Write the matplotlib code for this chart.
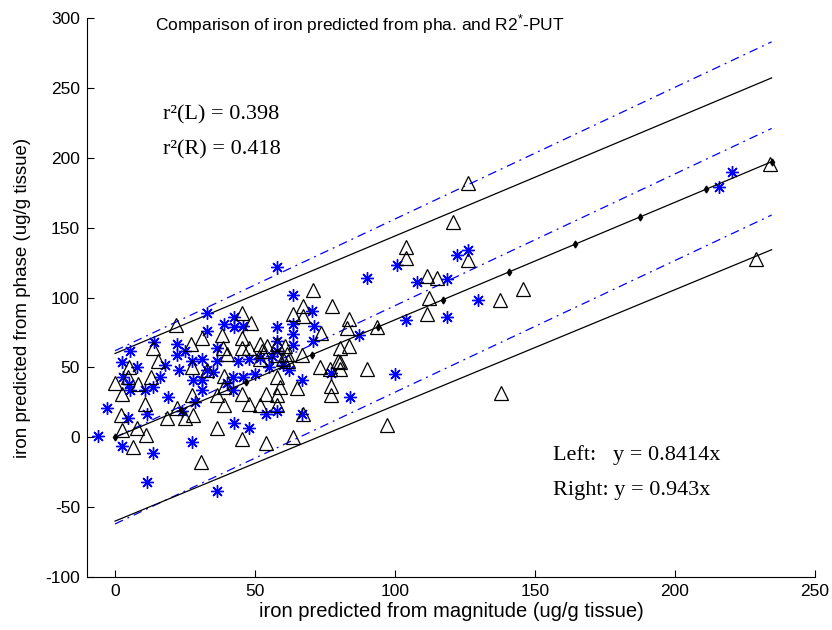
import matplotlib
matplotlib.use("Agg")
import matplotlib.pyplot as plt
import numpy as np

# left putamen: magnitude vs phase estimates (open triangles)
left_x = [70.7, 67, 77.5, 63.6, 67, 45.4, 48.6, 21.8, 83.6, 83, 73.6, 38.2, 31, 45.4, 27, 13.6,
          15.4, 38.6, 40, 45.4, 48, 51.8, 54.3, 57.9, 60.7, 52.5, 57.9, 60, 61.8, 66.8, 80.4, 79.6,
          73.2, 76.8, 80.4, 5, 4.6, 0, 2.5, 8.2, 13, 10.7, 2, 2.5, 7.9, 11, 6.4, 27.5, 33, 39, 39,
          27.5, 18.6, 22, 25, 28, 36.4, 39, 36.4, 45.4, 48, 51.8, 54, 58, 58, 59, 58, 65, 67, 77,
          77, 45.4, 54, 63.6, 30.7, 51.8, 61.4, 126, 120.7, 104, 104, 126, 111.4, 115, 112, 111.4,
          137.5, 145.7, 93.6, 83.6, 80.4, 90, 138, 97, 234, 229]
left_y = [105.7, 94, 94, 88.6, 87, 89, 82, 80.7, 85, 78.6, 75, 73.6, 71.4, 71.4, 67, 63.6,
          55, 63.6, 60, 63.6, 63.6, 67, 65.7, 67, 65.7, 62, 58.6, 56.4, 55, 58.6, 63.6, 55,
          50, 49, 49, 50, 43, 38.6, 31, 38, 43, 24, 16, 5, 7, 1.4, -7, 50, 48, 44, 36,
          30, 14, 21, 14, 16, 30, 23, 7, 31, 24, 23, 31, 30, 23, 36, 43, 35, 17, 37,
          30, -1.4, -4, 0, -18, 56, 60, 182, 154, 136, 128.6, 127, 115.7, 114, 100, 88.6,
          98.6, 106, 79, 65.7, 53.6, 49, 32, 8.6, 196, 128]

# right putamen (blue asterisks)
right_x = [63.6, 70.4, 33, 39, 42.5, 42.5, 45.7, 63.6, 63.6, 33, 22, 22, 14, 5.4, 2.5, 3, 5.4,
           10.7, 13.6, 16, 19, 23, 27.5, 31, 32.8, 28, 31, 31, 36.4, 36.4, 42, 45.7, 42, 48,
           51.8, 58, 58, 63.6, 66.8, 66.8, 58, 54, 28.6, 24, 11.4, 4.6, -3, -6, 2.5, 13.6, 11.4,
           36.4, 27.5, 42.5, 48, 70.7, 84, 87, 100.7, 90, 108, 118.6, 122, 126, 129.6, 118.6,
           104, 100, 77, 220.4, 215.7, 57.9, 8, 5, 18, 25, 35, 40, 44, 50, 55, 60, 62, 56, 71, 58]
right_y = [102, 90.7, 89, 81, 86, 79, 80, 81, 74, 76, 67, 59, 68, 62, 54, 43, 33.6,
           33.6, 36, 43, 28.6, 48, 55, 56, 48, 40.7, 40.7, 33.6, 63.6, 55, 43, 43, 33.6, 56,
           57, 69, 62, 66, 41, 17, 19, 17, 25, 19, 17, 13.6, 20.7, 0.7, -6.4, -11.4, -32,
           -38.6, -3.6, 10, 7, 69, 28.6, 73, 123.6, 114, 111, 113.6, 130.7, 134, 98.6, 86.4,
           84, 45, 46, 190, 179, 122, 50, 38, 52, 62, 47, 39, 55, 45, 50, 52, 48, 58, 80, 79]

# fitted lines and bands (endpoints at x = 0 and x = 234.5)
fit_x = [0, 234.5]
left_slope = 0.8414
right_slope = 0.943
left_band = 60
right_band = 62

plt.rcParams['axes.unicode_minus'] = False
plt.rcParams['mathtext.fontset'] = 'custom'
plt.rcParams['mathtext.rm'] = 'Liberation Sans'

fig = plt.figure(figsize=(8.32, 6.3), dpi=100)
ax = fig.add_axes([0.1046, 0.0841, 0.875, 0.8869])

fx = np.array(fit_x)
lx = np.linspace(fit_x[0], fit_x[1], 11)
dashdot = (0, (7, 4, 1.5, 4))

ax.plot(fx, right_slope * fx + right_band, color='blue', lw=0.9, ls=dashdot)
ax.plot(fx, right_slope * fx, color='blue', lw=0.9, ls=dashdot)
ax.plot(fx, right_slope * fx - right_band, color='blue', lw=0.9, ls=dashdot)
ax.plot(fx, left_slope * fx + left_band, color='black', lw=0.9)
ax.plot(fx, left_slope * fx - left_band - 3 * fx / fit_x[1], color='black', lw=0.9)

ax.plot(right_x, right_y, ls='none', marker=(8, 2, 0), ms=9, mew=1.0, color='blue')
ax.plot(left_x, left_y, ls='none', marker='^', ms=10, mfc='none', mec='black', mew=0.9)
ax.plot(lx, left_slope * lx, color='black', lw=0.9, marker='d', ms=3.5)

ax.set_xlim(-10, 250)
ax.set_ylim(-100, 300)
ax.set_xticks([0, 50, 100, 150, 200, 250])
ax.set_yticks(np.arange(-100, 301, 50))
ax.spines['top'].set_visible(False)
ax.spines['right'].set_visible(False)
ax.tick_params(direction='in', length=5, labelsize=12.5, pad=5)
for lab in ax.get_xticklabels() + ax.get_yticklabels():
    lab.set_family('Liberation Sans')

ax.set_xlabel('iron predicted from magnitude (ug/g tissue)', fontsize=14.5,
              family='Liberation Sans', labelpad=2)
ax.set_ylabel('iron predicted from phase (ug/g tissue)', fontsize=13.5,
              family='Liberation Sans', labelpad=10)

ax.text(87.5, 296, 'Comparison of iron predicted from pha. and R2$^{*}$-PUT', ha='center', va='center',
        fontsize=12.5, family='Liberation Sans')

ax.text(17, 231, 'r²(L) = 0.398', ha='left', va='center', fontsize=16, family='Liberation Serif')
ax.text(17, 206, 'r²(R) = 0.418', ha='left', va='center', fontsize=16, family='Liberation Serif')
ax.text(156.5, -13, 'Left:   y = 0.8414x', ha='left', va='center', fontsize=16, family='Liberation Serif')
ax.text(156.5, -38, 'Right: y = 0.943x', ha='left', va='center', fontsize=16, family='Liberation Serif')

fig.savefig('out.png', dpi=100)
